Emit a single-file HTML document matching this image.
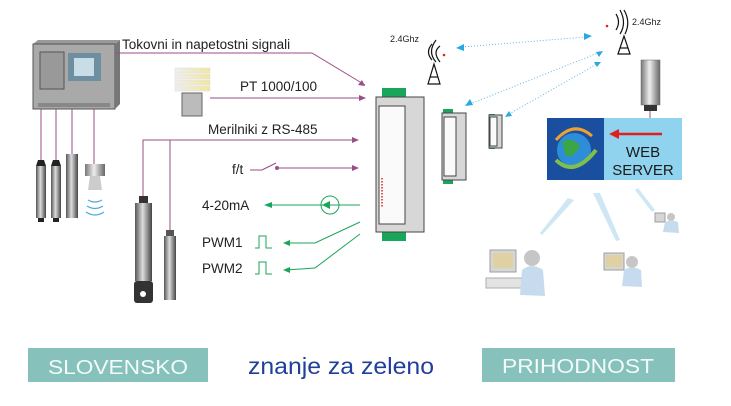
<!DOCTYPE html>
<html><head><meta charset="utf-8"><style>
html,body{margin:0;padding:0;background:#fff;}
svg{display:block;font-family:"Liberation Sans",sans-serif;}
</style></head><body>
<svg width="731" height="406" viewBox="0 0 731 406" xmlns="http://www.w3.org/2000/svg">
<defs>
<linearGradient id="cyl" x1="0" x2="1"><stop offset="0" stop-color="#555"/><stop offset="0.45" stop-color="#ddd"/><stop offset="1" stop-color="#444"/></linearGradient>
<linearGradient id="cylg" x1="0" x2="1"><stop offset="0" stop-color="#777"/><stop offset="0.45" stop-color="#eee"/><stop offset="1" stop-color="#666"/></linearGradient>
<linearGradient id="shel" x1="0" x2="1"><stop offset="0" stop-color="#eee"/><stop offset="1" stop-color="#f2e7a0"/></linearGradient>
</defs>
<rect width="731" height="406" fill="#fff"/>
<!-- cabinet -->
<polygon points="33,44 38,40 120,40 115,44" fill="#999"/>
<rect x="33" y="44" width="82" height="65" fill="#a9a9a9" stroke="#555"/>
<polygon points="115,44 120,40 120,104 115,109" fill="#777"/>
<rect x="40" y="52" width="24" height="37" fill="#999" stroke="#555"/>
<rect x="68" y="53" width="33" height="28" fill="#6e8fa0"/>
<rect x="74" y="58" width="20" height="18" fill="#c8dde6"/>
<rect x="38" y="103" width="72" height="4" fill="#888"/>
<!-- cabinet cables -->
<g stroke="#9b4d87" stroke-width="1" fill="none">
<line x1="41" y1="109" x2="41" y2="160"/><line x1="56" y1="109" x2="56" y2="160"/>
<line x1="72" y1="109" x2="72" y2="155"/><line x1="94" y1="109" x2="94" y2="165"/>
<polyline points="115,53 312,53 365,85"/>
<line x1="210" y1="98" x2="365" y2="98"/>
<polyline points="143,196 143,140 358,140"/>
<line x1="170" y1="230" x2="170" y2="140"/>
<line x1="250" y1="170" x2="262" y2="170"/><line x1="262" y1="170" x2="276" y2="163"/>
<line x1="277" y1="168" x2="358" y2="168"/>
</g>
<circle cx="277" cy="168" r="2" fill="#9b4d87"/>
<g fill="#9b4d87">
<polygon points="365,86 358,85 362,80"/>
<polygon points="366,98 359,95 359,101"/>
<polygon points="359,140 352,137 352,143"/>
<polygon points="359,168 352,165 352,171"/>
</g>
<!-- sensors under cabinet -->
<rect x="36" y="166" width="10" height="52" fill="url(#cyl)"/><polygon points="36,166 38,160 44,160 46,166" fill="#222"/><rect x="38" y="218" width="6" height="4" fill="#222"/>
<rect x="51" y="166" width="10" height="52" fill="url(#cyl)"/><polygon points="51,166 53,160 59,160 61,166" fill="#222"/><rect x="53" y="218" width="6" height="4" fill="#222"/>
<rect x="66" y="154" width="12" height="64" fill="url(#cyl)"/>
<rect x="85" y="164" width="20" height="12" fill="url(#cylg)"/><polygon points="90,176 100,176 102,190 88,190" fill="#ccc"/>
<g stroke="#4aa8e0" fill="none" stroke-width="1.2"><path d="M88,200 Q95,204 102,200"/><path d="M87,206 Q95,211 103,206"/><path d="M86,212 Q95,218 104,212"/></g>
<!-- PT shelter -->
<g fill="url(#shel)" stroke="#ddd" stroke-width="0.5">
<rect x="175" y="68" width="35" height="5"/><rect x="175" y="74" width="35" height="5"/><rect x="175" y="80" width="35" height="5"/><rect x="175" y="86" width="35" height="5"/>
</g>
<rect x="182" y="93" width="20" height="23" fill="#bbb" stroke="#666"/>
<!-- RS485 probes -->
<rect x="135" y="203" width="17" height="78" fill="url(#cyl)"/>
<rect x="139" y="196" width="9" height="7" fill="#333"/>
<rect x="134" y="281" width="19" height="22" rx="3" fill="#333"/><circle cx="143" cy="294" r="3" fill="#fff"/>
<rect x="164" y="236" width="12" height="64" fill="url(#cyl)"/><rect x="166" y="230" width="8" height="6" fill="#555"/>
<!-- texts -->
<g font-size="13.5" fill="#222">
<text x="122" y="49">Tokovni in napetostni signali</text>
<text x="240" y="91">PT 1000/100</text>
<text x="208" y="134">Merilniki z RS-485</text>
<text x="232" y="174">f/t</text>
<text x="202" y="210">4-20mA</text>
<text x="202" y="247">PWM1</text>
<text x="202" y="273">PWM2</text>
</g>
<!-- green -->
<g stroke="#1aa65a" fill="none" stroke-width="1">
<line x1="270" y1="205" x2="360" y2="205"/>
<circle cx="330" cy="205" r="9"/>
<polyline points="286,243 315,243 360,222"/>
<polyline points="286,270 315,268 360,234"/>
<polyline points="255,248 259,248 259,236 266,236 266,248 272,248"/>
<polyline points="255,274 259,274 259,262 266,262 266,274 272,274"/>
</g>
<g fill="#1aa65a">
<polygon points="264,205 272,202 272,208"/>
<polygon points="322,205 330,201 330,209"/>
<polygon points="283,243 290,240 290,246"/>
<polygon points="283,270 290,267 290,273"/>
</g>
<!-- main module -->
<rect x="382" y="88" width="24" height="10" fill="#1aa65a"/>
<rect x="382" y="231" width="24" height="10" fill="#1aa65a"/>
<rect x="376" y="97" width="48" height="135" fill="#d7d7d7" stroke="#444"/>
<rect x="379" y="106" width="26" height="118" fill="#fafafa" stroke="#444"/>
<line x1="382" y1="178" x2="382" y2="207" stroke="#d22" stroke-width="1.5" stroke-dasharray="1.5,1.5"/>
<rect x="443" y="109" width="10" height="5" fill="#1aa65a"/><rect x="443" y="179" width="10" height="5" fill="#1aa65a"/>
<rect x="442" y="113" width="24" height="67" fill="#d7d7d7" stroke="#444"/>
<rect x="444" y="117" width="12" height="59" fill="#fafafa" stroke="#444"/>
<rect x="489" y="114" width="6" height="3" fill="#1aa65a"/><rect x="489" y="146" width="6" height="3" fill="#1aa65a"/>
<rect x="489" y="115" width="13" height="33" fill="#d7d7d7" stroke="#444"/>
<rect x="490" y="117" width="7" height="29" fill="#fafafa" stroke="#444"/>
<!-- antennas -->
<g stroke="#111" fill="none" stroke-width="1.2">
<polygon points="428,84 434,64 440,84"/><line x1="430" y1="77" x2="438" y2="77"/>
<path d="M432,60 Q425,52 432,44"/><path d="M436,62 Q427,52 436,40"/><path d="M440,62 Q432,52 440,46"/>
<polygon points="618,54 624,36 630,54"/><line x1="620" y1="48" x2="628" y2="48"/>
<path d="M616,30 Q621,22 616,14"/><path d="M620,34 Q627,23 620,10"/><path d="M625,34 Q631,22 624,10"/>
</g>
<circle cx="444" cy="55" r="1.3" fill="#d22"/><circle cx="607" cy="26" r="1.3" fill="#d22"/>
<text x="390" y="42" font-size="9" fill="#222">2.4Ghz</text>
<text x="632" y="25" font-size="9" fill="#222">2.4Ghz</text>
<!-- dotted links -->
<g stroke="#5ab7e6" stroke-dasharray="1,2" stroke-width="1">
<line x1="462" y1="47" x2="586" y2="37"/>
<line x1="470" y1="104" x2="598" y2="53"/>
<line x1="509" y1="114" x2="597" y2="64"/>
</g>
<g fill="#27a9e1">
<polygon points="456,48 464,44 464,51"/><polygon points="592,36 584,33 584,40"/>
<polygon points="465,106 470,99 473,105"/><polygon points="603,51 596,52 599,57"/>
<polygon points="505,117 509,111 512,116"/><polygon points="601,62 594,62 597,67"/>
</g>
<!-- rod antenna -->
<rect x="641" y="60" width="19" height="45" fill="url(#cylg)" stroke="#666" stroke-width="0.5"/>
<rect x="644" y="105" width="13" height="6" fill="#333"/>
<line x1="650" y1="111" x2="650" y2="119" stroke="#9b4d87"/>
<!-- web server -->
<rect x="547" y="118" width="57" height="62" fill="#1a4fa0"/>
<rect x="604" y="118" width="78" height="62" fill="#8fd3ee"/>
<circle cx="574" cy="150" r="17" fill="#2e8dd8"/>
<path d="M562,142 Q572,136 580,146 Q574,158 566,156Z" fill="#3ba648"/>
<path d="M556,160 Q574,178 596,150" stroke="#7fc04a" stroke-width="4" fill="none"/>
<path d="M592,136 Q574,120 556,140" stroke="#f0a030" stroke-width="3" fill="none"/>
<line x1="616" y1="134" x2="662" y2="134" stroke="#e02020" stroke-width="2.5"/>
<polygon points="609,134 619,129 619,139" fill="#e02020"/>
<text x="643" y="157" font-size="15" fill="#1a1a1a" text-anchor="middle">WEB</text>
<text x="643" y="175" font-size="15" fill="#1a1a1a" text-anchor="middle">SERVER</text>
<!-- beams -->
<g fill="#cfe6f4">
<polygon points="568,198 574,200 542,235 540,233"/>
<polygon points="593,193 600,193 620,240 616,241"/>
<polygon points="635,190 638,188 655,210 652,212"/>
</g>
<!-- computers -->
<g opacity="0.8">
<rect x="490" y="250" width="26" height="22" fill="#ccc" stroke="#888"/><rect x="493" y="253" width="20" height="15" fill="#d8c68a"/>
<rect x="486" y="278" width="36" height="10" fill="#ddd" stroke="#999"/>
<circle cx="532" cy="258" r="8" fill="#b9b9b9"/><path d="M520,295 L522,270 Q532,262 543,270 L545,296Z" fill="#b8d3ea"/>
<rect x="604" y="253" width="20" height="17" fill="#ccc" stroke="#888"/><rect x="606" y="255" width="16" height="12" fill="#d8c68a"/>
<circle cx="632" cy="262" r="6" fill="#b9b9b9"/><path d="M622,286 L624,270 Q632,265 641,270 L642,287Z" fill="#b8d3ea"/>
<rect x="655" y="213" width="10" height="9" fill="#ccc" stroke="#888"/>
<circle cx="671" cy="217" r="4" fill="#b9b9b9"/><path d="M663,232 L665,222 Q671,219 678,222 L679,233Z" fill="#b8d3ea"/>
</g>
<!-- bottom -->
<rect x="28" y="348" width="180" height="34" fill="#86c1bb"/>
<text x="118" y="374" font-size="20" fill="#f4fbfa" text-anchor="middle" textLength="140" lengthAdjust="spacingAndGlyphs">SLOVENSKO</text>
<text x="341" y="374" font-size="23" fill="#1f3f9a" text-anchor="middle" textLength="186" lengthAdjust="spacingAndGlyphs">znanje  za  zeleno</text>
<rect x="482" y="348" width="193" height="34" fill="#86c1bb"/>
<text x="578" y="373" font-size="20" fill="#f4fbfa" text-anchor="middle" textLength="152" lengthAdjust="spacingAndGlyphs">PRIHODNOST</text>
</svg>
</body></html>
